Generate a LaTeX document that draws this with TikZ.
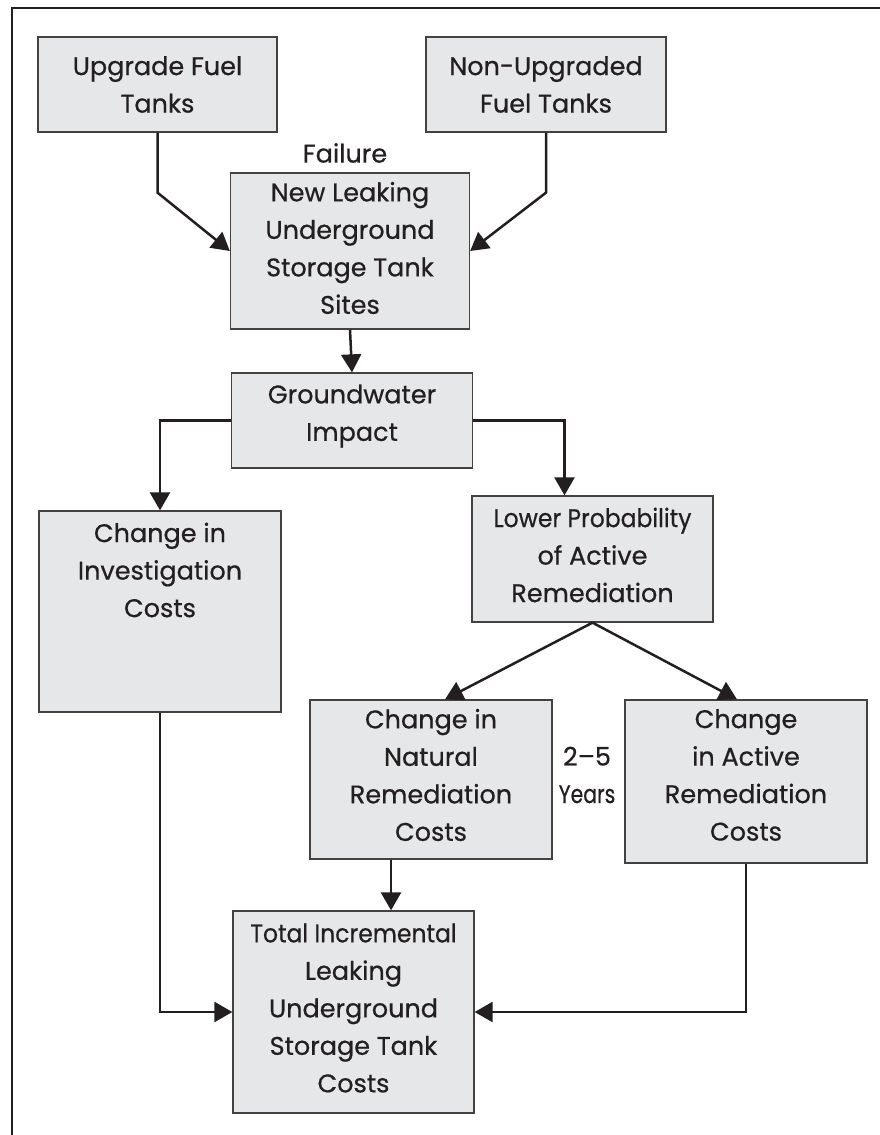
\documentclass[tikz,border=0pt]{standalone}
\usepackage{fontspec}
\setmainfont{Poppins}[FakeBold=0.6]
\usetikzlibrary{arrows.meta,calc}
\definecolor{boxfill}{HTML}{E6E7E8}
\definecolor{ink}{HTML}{231F20}
\tikzset{
  box/.style={draw=ink!85, line width=1.3pt, fill=boxfill, inner sep=0pt},
  txt/.style={align=center, text=ink, inner sep=0pt, font=\fontsize{25.5}{37.5}\selectfont},
  arr/.style={draw=ink, line width=2.5pt, -{Triangle[length=18pt,width=20pt]}},
}
\begin{document}
\begin{tikzpicture}[x=1pt,y=-1pt]
\useasboundingbox (0,0) rectangle (880,1135);
\draw[ink, line width=2pt] (12,1135) -- (12,8) -- (880,8);
% boxes
\node[box, minimum width=239pt, minimum height=95pt] (up) at (157.5,84.5) {};
\node[txt] (upt) at (up) {Upgrade Fuel\\Tanks};
\node[box, minimum width=240pt, minimum height=95pt] (nonup) at (546,84.5) {};
\node[txt] (nonupt) at (nonup) {Non-Upgraded\\Fuel Tanks};
\node[box, minimum width=239pt, minimum height=156pt] (new) at (350,251) {};
\node[txt] (newt) at (350,248) {New Leaking\\Underground\\Storage Tank\\Sites};
\node[txt] (fail) at (345,153) {Failure};
\node[box, minimum width=241pt, minimum height=95pt] (gw) at (352,420.5) {};
\node[txt] (gwt) at (352,416) {Groundwater\\Impact};
\node[box, minimum width=242pt, minimum height=201pt] (inv) at (160,611.5) {};
\node[txt] (invt) at (160,570) {Change in\\Investigation\\Costs};
\node[box, minimum width=241pt, minimum height=126pt] (lp) at (592.5,559) {};
\node[txt] (lpt) at (592.5,555) {\scalebox{0.92}[1]{Lower Probability}\\of Active\\Remediation};
\node[box, minimum width=242pt, minimum height=159pt] (nat) at (431,779.5) {};
\node[txt] (natt) at (431,775) {Change in\\Natural\\Remediation\\Costs};
\node[box, minimum width=242pt, minimum height=163pt] (act) at (746,781.5) {};
\node[txt] (actt) at (746,775) {Change\\in Active\\Remediation\\Costs};
\node[txt] (yrs) at (587,775) {2–5\\\scalebox{0.8}[1]{Years}};
\node[box, minimum width=241pt, minimum height=202pt] (tot) at (353.5,1012) {};
\node[txt] (tott) at (353.5,1008) {\scalebox{0.92}[1]{Total Incremental}\\Leaking\\Underground\\Storage Tank\\Costs};
% connectors
\draw[arr] (up.south) -- ++(0,60) -- (new.west);
\draw[arr] (nonup.south) -- ++(0,60) -- (new.east);
\draw[arr] (new.south) -- (gw.north);
\draw[arr] (gw.west) -| (inv.north);
\draw[arr] (gw.east) -| ([xshift=-28pt]lp.north);
\draw[arr] (lp.south) -- ([xshift=14pt]nat.north);
\draw[arr] (lp.south) -- ([xshift=-9pt]act.north);
\draw[arr] ([xshift=-40pt]nat.south) -- ([xshift=-40pt]nat.south |- tot.north);
\draw[arr] (inv.south) |- (tot.west);
\draw[arr] (act.south) |- (tot.east);
\end{tikzpicture}
\end{document}
